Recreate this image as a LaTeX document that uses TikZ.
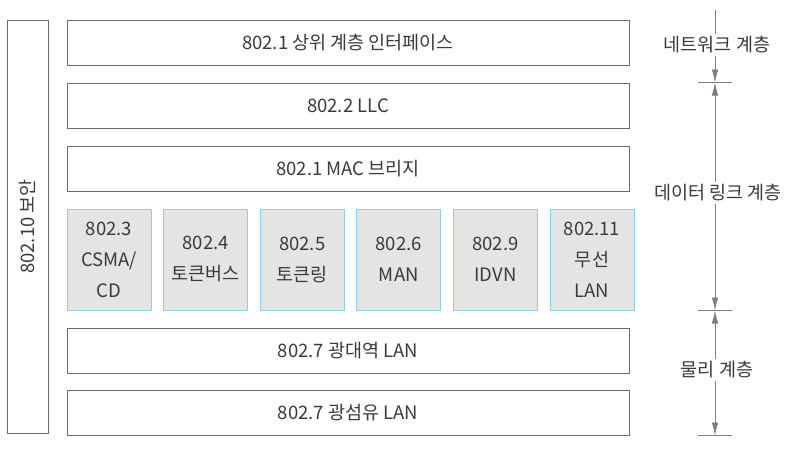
\documentclass[tikz,border=0pt]{standalone}
\usepackage{fontspec}
\setmainfont{Noto Sans CJK KR}
\usetikzlibrary{shapes,arrows.meta,positioning,fit,calc}

\definecolor{txtgray}{HTML}{3A3A3A}
\definecolor{boxline}{HTML}{6A6A6A}
\definecolor{cellfill}{HTML}{E4E4E4}
\definecolor{cellline}{HTML}{8CD0E6}
\definecolor{dimgray}{HTML}{7E7E7E}

\tikzset{
  layer/.style={draw=boxline, line width=1pt, rectangle, minimum width=562pt, minimum height=45pt, text=txtgray, font=\fontsize{18.5}{22}\selectfont},
  cell/.style={draw=cellline, line width=1pt, fill=cellfill, rectangle, minimum width=84pt, minimum height=101pt, align=center, text=txtgray, font=\fontsize{18.5}{31}\selectfont},
  dimlabel/.style={text=txtgray, font=\fontsize{18.5}{22}\selectfont, inner sep=2pt},
  dimline/.style={draw=dimgray, line width=0.7pt},
  dimarrow/.style={dimline, -{Latex[length=13pt,width=6.5pt]}},
}

\begin{document}
\begin{tikzpicture}[x=1pt, y=1pt]
  \useasboundingbox (0,0) rectangle (799,-450);

  % layer stack
  \node[layer] (upper) at (348,-42.5) {802.1 상위 계층 인터페이스};
  \node[layer, below=17pt of upper] (llc) {802.2 LLC};
  \node[layer, below=17pt of llc] (bridge) {802.1 MAC 브리지};

  % MAC cells
  \node[cell, below=17pt of bridge.south west, anchor=north west] (csma) {802.3\\CSMA/\\CD};
  \node[cell, right=11.6pt of csma] (tbus) {802.4\\토큰버스};
  \node[cell, right=11.6pt of tbus] (tring) {802.5\\토큰링};
  \node[cell, right=11.6pt of tring] (man) {802.6\\MAN};
  \node[cell, right=11.6pt of man] (idvn) {802.9\\IDVN};
  \node[cell, right=11.6pt of idvn] (wlan) {802.11\\무선\\LAN};

  % physical
  \node[layer, below=17pt of csma.south west, anchor=north west] (broad) {802.7 광대역 LAN};
  \node[layer, below=16pt of broad] (fiber) {802.7 광섬유 LAN};

  % security column
  \node[draw=boxline, line width=1pt, rectangle, rotate=90, minimum width=413pt, minimum height=41pt, text=txtgray, font=\fontsize{18.5}{22}\selectfont] (sec) at (27.5,-226.5) {802.10 보안};

  % layer dimensions
  \coordinate (dimx) at (715,0);
  \coordinate (top) at (715,-10);
  \coordinate (t1) at (dimx |- llc.north);
  \coordinate (t2) at (dimx |- csma.south);
  \coordinate (t3) at (dimx |- fiber.south);

  \node[dimlabel] (net) at (717,-45) {네트워크 계층};
  \node[dimlabel] (link) at (718,-193) {데이터 링크 계층};
  \node[dimlabel] (phys) at (717,-370) {물리 계층};

  \draw[dimline] (top) -- (top |- net.north);
  \draw[dimarrow] (t1 |- net.south) -- (t1);
  \draw[dimarrow] (t1 |- link.north) -- (t1);
  \draw[dimarrow] (t2 |- link.south) -- (t2);
  \draw[dimarrow] (t2 |- phys.north) -- (t2);
  \draw[dimarrow] (t3 |- phys.south) -- (t3);

  \foreach \t in {t1,t2,t3}
    \draw[dimline] ([xshift=-17pt]\t) -- ([xshift=17pt]\t);
\end{tikzpicture}
\end{document}
